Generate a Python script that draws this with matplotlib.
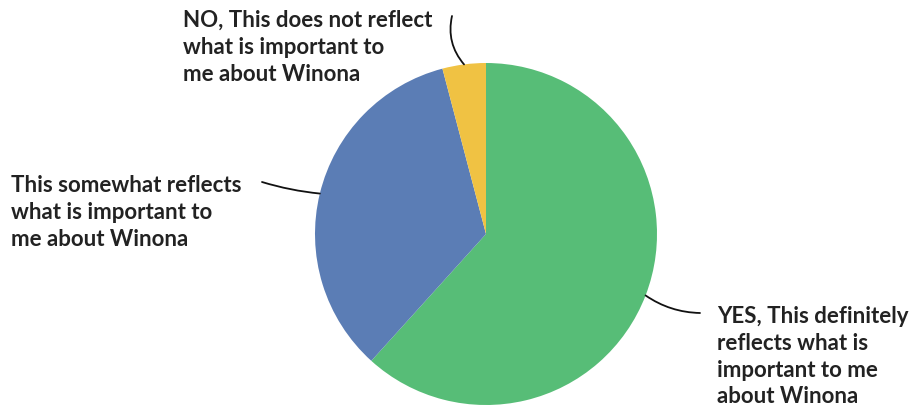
import numpy as np
import matplotlib.pyplot as plt

# survey responses, share of respondents (%)
labels = [
    "YES, This definitely\nreflects what is\nimportant to me\nabout Winona",
    "This somewhat reflects\nwhat is important to\nme about Winona",
    "NO, This does not reflect\nwhat is important to\nme about Winona",
]
shares = [61.7, 34.2, 4.1]
colors = ["#57BD77", "#5B7DB5", "#F0C243"]

W, H = 915, 408
fig = plt.figure(figsize=(W / 100, H / 100), dpi=100)
ax = fig.add_axes([0, 0, 1, 1])

cx, cy, r = 486, H - 234, 171
wedges, _ = ax.pie(shares, colors=colors, startangle=90, counterclock=False,
                   center=(cx, cy), radius=r, frame=True,
                   wedgeprops=dict(linewidth=0))
ax.set_xlim(0, W)
ax.set_ylim(0, H)
ax.set_aspect("equal")
ax.axis("off")

font = dict(family=["Lato", "DejaVu Sans"], fontsize=16, fontweight="bold",
            color="#222222", linespacing=1.34)

# label placement: text corner, leader line end, curvature
text_pos = [(717, H - 306), (11, H - 175), (183, H - 10)]
line_end = [(700, H - 313), (262, H - 182), (452, H - 16)]
rads = [-0.15, 0.05, 0.25]

for w, lab, tp, le, rad in zip(wedges, labels, text_pos, line_end, rads):
    mid = np.deg2rad((w.theta1 + w.theta2) / 2)
    edge = (cx + r * np.cos(mid), cy + r * np.sin(mid))
    ax.annotate("", xy=edge, xytext=le,
                arrowprops=dict(arrowstyle="-", color="#111111", lw=1.3,
                                shrinkA=0, shrinkB=0,
                                connectionstyle=f"arc3,rad={rad}"))
    ax.text(tp[0], tp[1], lab, ha="left", va="top", **font)

fig.savefig("out.png", dpi=100)
